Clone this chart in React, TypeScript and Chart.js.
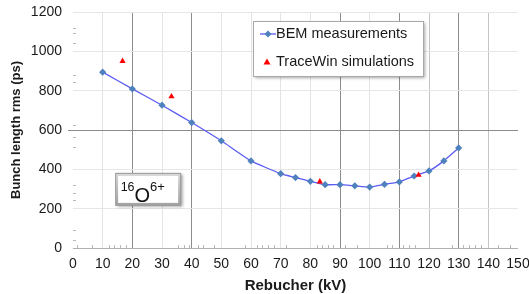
import React, { useEffect, useRef } from "react";
import { Chart, registerables } from "chart.js";

Chart.register(...registerables);

// ---- data ----
const bemKv = [10, 20, 30, 40, 50, 60, 70, 75, 80, 85, 90, 95, 100, 105, 110, 115, 120, 125, 130];
const bemPs = [894, 809, 726, 638, 545, 443, 378, 358, 339, 322, 322, 316, 310, 324, 336, 366, 392, 443, 509];
const traceKv = [16.7, 33.2, 83.2, 116.5];
const tracePs = [950, 770, 337, 371];
const xTickValues = [0, 10, 20, 30, 40, 50, 60, 70, 80, 90, 100, 110, 120, 130, 140, 150];
const yTickValues = [0, 200, 400, 600, 800, 1000, 1200];
const xMinorTicks = [1.2, 6.3, 12.2, 13.9, 15.8, 17.8, 35.5, 37.4, 39.2, 42.2, 43.9, 47.6, 58, 61.9, 63.8, 65.8, 67.7, 71.8, 82.1, 84, 85.8, 87.7, 91.7, 95.6, 105.7, 107.4, 111.3, 113.3, 115.3, 127.8, 131.6, 133.6, 135.6, 137.4, 143.3, 147.3];
const yMinorTicks = [1120, 1094, 1043, 880, 845, 626, 565, 514, 321, 280, 244, 92, 41];
const seriesNames = ["BEM measurements", "TraceWin simulations"];
const xTitle = "Rebucher (kV)";
const yTitle = "Bunch length rms (ps)";
const ionMass = "16";
const ionSymbol = "O";
const ionCharge = "6+";

const darkX = [20, 40, 90, 110, 130];
const midX = [120, 140];

const FONT = "'Liberation Sans', Arial, sans-serif";

const decorPlugin = {
  id: "decor",
  beforeDatasetsDraw(chart: any) {
    const { ctx, chartArea, scales } = chart;
    ctx.save();
    ctx.strokeStyle = "#b8b8b8";
    ctx.lineWidth = 1;
    for (const v of xMinorTicks) {
      const px = Math.round(scales.x.getPixelForValue(v)) + 0.5;
      ctx.beginPath();
      ctx.moveTo(px, chartArea.bottom - 3);
      ctx.lineTo(px, chartArea.bottom);
      ctx.stroke();
    }
    for (const v of yMinorTicks) {
      const py = Math.round(scales.y.getPixelForValue(v)) + 0.5;
      ctx.beginPath();
      ctx.moveTo(chartArea.left, py);
      ctx.lineTo(chartArea.left + 3, py);
      ctx.stroke();
    }
    const p600 = Math.round(scales.y.getPixelForValue(600)) + 0.5;
    ctx.strokeStyle = "#8a8a8a";
    ctx.beginPath();
    ctx.moveTo(chartArea.left - 5, p600);
    ctx.lineTo(chartArea.left, p600);
    ctx.stroke();
    ctx.restore();
  },
  afterDraw(chart: any) {
    const { ctx, chartArea, scales } = chart;
    ctx.save();
    // ---- legend box ----
    const lx = chartArea.left + 180;
    const ly = chartArea.top + 9;
    const lw = 170;
    const lh = 55;
    ctx.shadowColor = "rgba(0,0,0,0.35)";
    ctx.shadowBlur = 3;
    ctx.shadowOffsetX = 2;
    ctx.shadowOffsetY = 2;
    ctx.fillStyle = "#ffffff";
    ctx.fillRect(lx, ly, lw, lh);
    ctx.shadowColor = "transparent";
    ctx.strokeStyle = "#a8a8a8";
    ctx.lineWidth = 1;
    ctx.strokeRect(lx + 0.5, ly + 0.5, lw, lh);

    const r1 = ly + 13;
    const r2 = ly + 41;
    ctx.strokeStyle = "#5b5bf5";
    ctx.lineWidth = 1.3;
    ctx.beginPath();
    ctx.moveTo(lx + 7, r1);
    ctx.lineTo(lx + 23, r1);
    ctx.stroke();
    ctx.fillStyle = "#4f81bd";
    ctx.beginPath();
    const mx = lx + 15;
    ctx.moveTo(mx, r1 - 3.5);
    ctx.lineTo(mx + 3.5, r1);
    ctx.lineTo(mx, r1 + 3.5);
    ctx.lineTo(mx - 3.5, r1);
    ctx.closePath();
    ctx.fill();

    ctx.fillStyle = "#ff0000";
    ctx.beginPath();
    const tx = lx + 14;
    ctx.moveTo(tx, r2 - 3.5);
    ctx.lineTo(tx + 3.5, r2 + 2.5);
    ctx.lineTo(tx - 3.5, r2 + 2.5);
    ctx.closePath();
    ctx.fill();

    ctx.fillStyle = "#1a1a1a";
    ctx.font = `14.5px ${FONT}`;
    ctx.textBaseline = "middle";
    ctx.textAlign = "left";
    ctx.fillText(seriesNames[0], lx + 23, r1);
    ctx.fillText(seriesNames[1], lx + 23, r2);

    // ---- ion label box ----
    const bx = scales.x.getPixelForValue(14.2);
    const by = scales.y.getPixelForValue(382);
    const bw = 66;
    const bh = 33;
    ctx.shadowColor = "rgba(0,0,0,0.4)";
    ctx.shadowBlur = 3;
    ctx.shadowOffsetX = 1.5;
    ctx.shadowOffsetY = 1.5;
    ctx.fillStyle = "#9a9a9a";
    ctx.fillRect(bx, by, bw, bh);
    ctx.shadowColor = "transparent";
    const g = ctx.createLinearGradient(bx, by, bx, by + bh);
    g.addColorStop(0, "#d8d8d8");
    g.addColorStop(1, "#a0a0a0");
    ctx.fillStyle = g;
    ctx.fillRect(bx + 1, by + 1, bw - 2, bh - 2);
    ctx.fillStyle = "#ffffff";
    ctx.fillRect(bx + 3, by + 3, bw - 6, bh - 6);

    ctx.fillStyle = "#111";
    ctx.textBaseline = "alphabetic";
    ctx.font = `12.5px ${FONT}`;
    ctx.fillText(ionMass, bx + 5.5, by + 18.5);
    const w = ctx.measureText(ionMass).width;
    ctx.font = `20px ${FONT}`;
    ctx.fillText(ionSymbol, bx + 5.5 + w, by + 29);
    const w2 = ctx.measureText(ionSymbol).width;
    ctx.font = `13px ${FONT}`;
    ctx.fillText(ionCharge, bx + 5.5 + w + w2, by + 18.5);
    ctx.restore();
  },
};

export default function App() {
  const ref = useRef<HTMLCanvasElement | null>(null);
  useEffect(() => {
    if (!ref.current) return;
    const chart = new Chart(ref.current, {
      type: "scatter",
      data: {
        datasets: [
          {
            label: seriesNames[1],
            data: traceKv.map((x, i) => ({ x, y: tracePs[i] })),
            pointStyle: "triangle",
            pointRadius: 3.6,
            backgroundColor: "#ff0000",
            borderColor: "#ff0000",
            borderWidth: 0,
            showLine: false,
          },
          {
            label: seriesNames[0],
            data: bemKv.map((x, i) => ({ x, y: bemPs[i] })),
            showLine: true,
            borderColor: "#5b5bf5",
            borderWidth: 1.3,
            tension: 0.15,
            pointStyle: "rectRot",
            pointRadius: 3.6,
            backgroundColor: "#4f81bd",
            pointBorderColor: "#4f81bd",
            pointBorderWidth: 0,
          },
        ],
      },
      options: {
        animation: false,
        responsive: false,
        devicePixelRatio: 1,
        layout: { padding: { left: 0, right: 11, top: 12, bottom: 0 } },
        plugins: { legend: { display: false }, tooltip: { enabled: false } },
        scales: {
          x: {
            type: "linear",
            min: 0,
            max: 150,
            afterBuildTicks: (s: any) => {
              s.ticks = xTickValues.map((v) => ({ value: v }));
            },
            afterFit: (s: any) => {
              s.height = 46;
              s.paddingLeft = 0;
              s.paddingRight = 0;
              s.paddingTop = 0;
              s.paddingBottom = 0;
            },
            ticks: {
              autoSkip: false,
              maxRotation: 0,
              padding: 8,
              color: "#1a1a1a",
              font: { family: FONT, size: 14 },
              callback: (v: any) => String(v),
            },
            grid: {
              drawTicks: false,
              color: (c: any) => {
                const v = c.tick ? c.tick.value : -1;
                if (v === 0 || v === 150) return "rgba(0,0,0,0)";
                if (darkX.includes(v)) return "#8c8c8c";
                if (midX.includes(v)) return "#c4c4c4";
                return "#e4e4e4";
              },
            },
            border: { display: false },
            title: {
              display: true,
              text: xTitle,
              color: "#1a1a1a",
              font: { family: FONT, size: 15, weight: "bold" },
              padding: { top: 0, bottom: -1 },
            },
          },
          y: {
            type: "linear",
            min: 0,
            max: 1200,
            afterBuildTicks: (s: any) => {
              s.ticks = yTickValues.map((v) => ({ value: v }));
            },
            afterFit: (s: any) => {
              s.width = 73;
              s.paddingLeft = 0;
              s.paddingRight = 0;
              s.paddingTop = 0;
              s.paddingBottom = 0;
            },
            ticks: {
              padding: 11,
              color: "#1a1a1a",
              font: { family: FONT, size: 14 },
              callback: (v: any) => String(v),
            },
            grid: {
              drawTicks: false,
              color: (c: any) => {
                const v = c.tick ? c.tick.value : -1;
                if (v === 600) return "#8c8c8c";
                if (v === 0) return "#b0b0b0";
                return "#e6e6e6";
              },
            },
            border: { display: false },
            title: {
              display: true,
              text: yTitle,
              color: "#1a1a1a",
              font: { family: FONT, size: 13, weight: "bold" },
              padding: { top: 9, bottom: 0 },
            },
          },
        },
      },
      plugins: [decorPlugin],
    });
    return () => chart.destroy();
  }, []);
  return (
    <canvas
      ref={ref}
      width={529}
      height={294}
      style={{ position: "absolute", left: 0, top: 0, width: 529, height: 294 }}
    />
  );
}
